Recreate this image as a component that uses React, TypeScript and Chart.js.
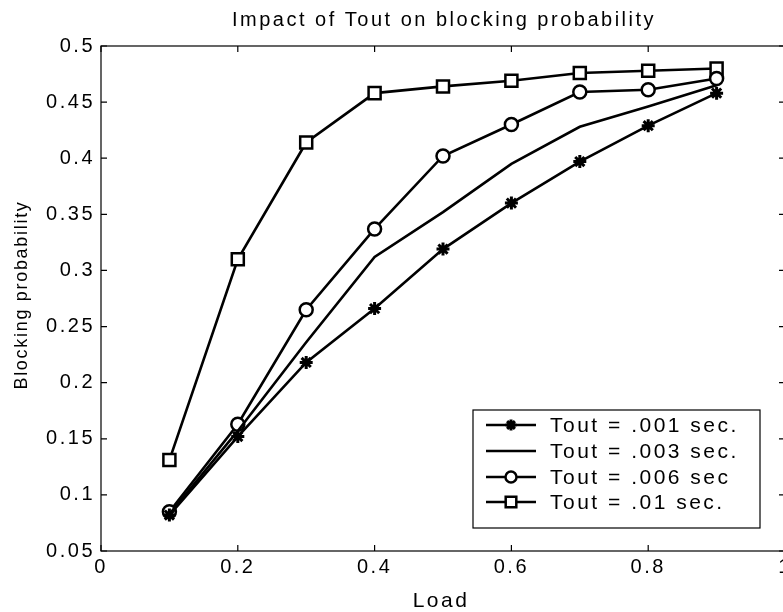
import React, { useEffect, useRef } from "react";
import { Chart, registerables } from "chart.js";
import { drawPoint } from "chart.js/helpers";

Chart.register(...registerables);

const LOADS = [0.1, 0.2, 0.3, 0.4, 0.5, 0.6, 0.7, 0.8, 0.9];
const TOUT_001 = [0.082, 0.152, 0.218, 0.266, 0.319, 0.36, 0.397, 0.429, 0.458];
const TOUT_003 = [0.083, 0.157, 0.236, 0.312, 0.352, 0.395, 0.428, 0.446, 0.465];
const TOUT_006 = [0.085, 0.163, 0.265, 0.337, 0.402, 0.43, 0.459, 0.461, 0.471];
const TOUT_01 = [0.131, 0.31, 0.414, 0.458, 0.464, 0.469, 0.476, 0.478, 0.48];

const SERIES_LABELS = ["Tout = .001 sec.", "Tout = .003 sec.", "Tout = .006 sec", "Tout = .01 sec."];
const X_TICKS = [0, 0.2, 0.4, 0.6, 0.8, 1];
const X_TICK_LABELS = ["0", "0.2", "0.4", "0.6", "0.8", "1"];
const Y_TICKS = [0.05, 0.1, 0.15, 0.2, 0.25, 0.3, 0.35, 0.4, 0.45, 0.5];
const Y_TICK_LABELS = ["0.05", "0.1", "0.15", "0.2", "0.25", "0.3", "0.35", "0.4", "0.45", "0.5"];
const TITLE = "Impact of Tout on blocking probability";
const X_TITLE = "Load";
const Y_TITLE = "Blocking probability";

const FONT = '"Liberation Sans", Arial, sans-serif';
const SPACING = "2.5px";

function pts(ys: number[]) {
  return LOADS.map((x, i) => ({ x, y: ys[i] }));
}

const framePlugin = {
  id: "matlabFrame",
  beforeInit(chart: any) {
    chart.ctx.letterSpacing = SPACING;
  },
  beforeDraw(chart: any) {
    chart.ctx.letterSpacing = SPACING;
  },
  afterDraw(chart: any) {
    const ctx = chart.ctx as CanvasRenderingContext2D;
    const a = chart.chartArea;
    const xs = chart.scales.x;
    const ys = chart.scales.y;
    ctx.save();
    (ctx as any).letterSpacing = SPACING;
    ctx.strokeStyle = "#000";
    ctx.lineWidth = 1.2;
    ctx.strokeRect(a.left, a.top, a.right - a.left, a.bottom - a.top);
    const tl = 6;
    ctx.beginPath();
    X_TICKS.forEach((v) => {
      const px = xs.getPixelForValue(v);
      ctx.moveTo(px, a.bottom);
      ctx.lineTo(px, a.bottom - tl);
      ctx.moveTo(px, a.top);
      ctx.lineTo(px, a.top + tl);
    });
    Y_TICKS.forEach((v) => {
      const py = ys.getPixelForValue(v);
      ctx.moveTo(a.left, py);
      ctx.lineTo(a.left + tl, py);
      ctx.moveTo(a.right, py);
      ctx.lineTo(a.right - tl, py);
    });
    ctx.stroke();

    ctx.fillStyle = "#000";
    ctx.textAlign = "center";
    ctx.textBaseline = "middle";

    // title
    ctx.font = `20px ${FONT}`;
    ctx.fillText(TITLE, 444, 20);

    // x title
    ctx.font = `21px ${FONT}`;
    ctx.fillText(X_TITLE, 441, 601);

    // y title
    ctx.save();
    (ctx as any).letterSpacing = "1.7px";
    ctx.translate(22, 295);
    ctx.rotate(-Math.PI / 2);
    ctx.font = `18px ${FONT}`;
    ctx.fillText(Y_TITLE, 0, 0);
    ctx.restore();

    // legend
    const lx = 473, ly = 410, lw = 287, lh = 118;
    ctx.fillStyle = "#fff";
    ctx.fillRect(lx, ly, lw, lh);
    ctx.lineWidth = 1.2;
    ctx.strokeStyle = "#000";
    ctx.strokeRect(lx, ly, lw, lh);
    const rowY = [425, 451, 477, 502];
    chart.data.datasets.forEach((ds: any, i: number) => {
      const y = rowY[i];
      ctx.strokeStyle = "#000";
      ctx.lineWidth = ds.borderWidth;
      ctx.beginPath();
      ctx.moveTo(486, y);
      ctx.lineTo(536, y);
      ctx.stroke();
      if (ds.pointRadius > 0) {
        ctx.save();
        ctx.lineWidth = ds.pointBorderWidth;
        ctx.fillStyle = ds.pointBackgroundColor;
        ctx.strokeStyle = "#000";
        drawPoint(ctx, { pointStyle: ds.pointStyle, radius: ds.pointRadius - 1, borderWidth: ds.pointBorderWidth, rotation: 0 } as any, 511, y);
        ctx.restore();
      }
      ctx.fillStyle = "#000";
      ctx.font = `21px ${FONT}`;
      ctx.textAlign = "left";
      ctx.textBaseline = "middle";
      ctx.fillText(ds.label, 550, y + 1);
    });
    ctx.restore();
  },
};

export default function App() {
  const ref = useRef<HTMLCanvasElement>(null);
  useEffect(() => {
    if (!ref.current) return;
    const common = { borderColor: "#000", pointBorderColor: "#000", borderWidth: 2.6, pointBorderWidth: 2.5, fill: false, tension: 0 };
    const chart = new Chart(ref.current, {
      type: "line",
      data: {
        datasets: [
          { ...common, label: SERIES_LABELS[0], data: pts(TOUT_001), pointStyle: "star", pointRadius: 6.5, pointBorderWidth: 3, pointBackgroundColor: "#000" },
          { ...common, label: SERIES_LABELS[1], data: pts(TOUT_003), pointRadius: 0, pointBackgroundColor: "#000" },
          { ...common, label: SERIES_LABELS[2], data: pts(TOUT_006), pointStyle: "circle", pointRadius: 6.5, pointBackgroundColor: "#fff" },
          { ...common, label: SERIES_LABELS[3], data: pts(TOUT_01), pointStyle: "rect", pointRadius: 8.5, pointBackgroundColor: "#fff" },
        ] as any,
      },
      options: {
        animation: false,
        responsive: false,
        devicePixelRatio: 1,
        layout: { padding: { top: 46, right: 15, left: 0, bottom: 0 } },
        plugins: { legend: { display: false }, tooltip: { enabled: false }, title: { display: false } },
        scales: {
          x: {
            type: "linear",
            min: 0,
            max: 1,
            grid: { display: false, drawTicks: false },
            border: { display: false },
            afterBuildTicks: (s: any) => { s.ticks = X_TICKS.map((v) => ({ value: v })); },
            afterFit: (s: any) => { s.height = 61; },
            ticks: {
              color: "#000",
              font: { family: FONT, size: 20 },
              padding: 4,
              maxRotation: 0,
              autoSkip: false,
              callback: (_v: any, i: number) => X_TICK_LABELS[i],
            },
          },
          y: {
            type: "linear",
            min: 0.05,
            max: 0.5,
            grid: { display: false, drawTicks: false },
            border: { display: false },
            afterBuildTicks: (s: any) => { s.ticks = Y_TICKS.map((v) => ({ value: v })); },
            afterFit: (s: any) => { s.width = 101; },
            ticks: {
              color: "#000",
              font: { family: FONT, size: 20 },
              padding: 6,
              autoSkip: false,
              callback: (_v: any, i: number) => Y_TICK_LABELS[i],
            },
          },
        },
      },
      plugins: [framePlugin],
    } as any);
    return () => chart.destroy();
  }, []);
  return (
    <div style={{ position: "fixed", left: 0, top: 0, width: 783, height: 612, overflow: "hidden", background: "#fff" }}>
      <canvas ref={ref} width={800} height={612} style={{ width: 800, height: 612, display: "block" }} />
    </div>
  );
}
